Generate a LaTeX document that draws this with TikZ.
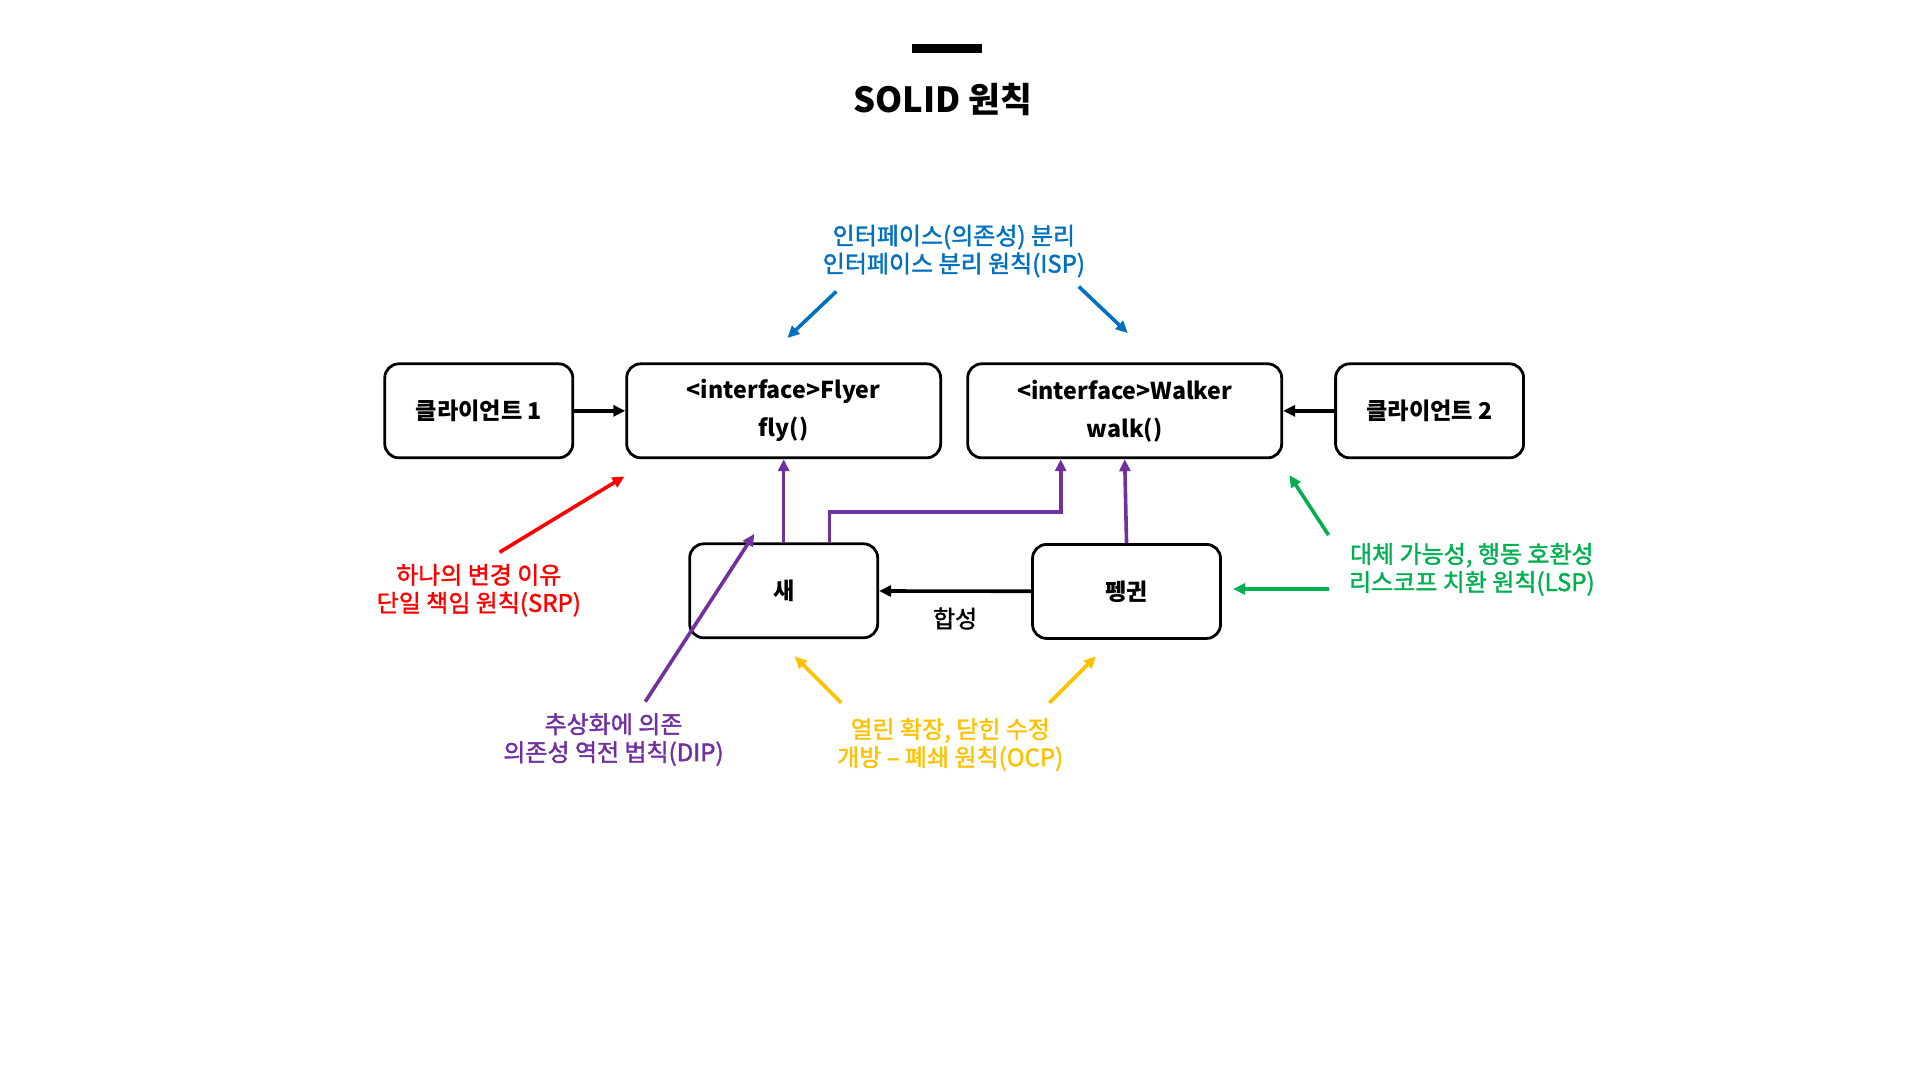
\documentclass[tikz,border=0pt]{standalone}
\usepackage{fontspec}
\setmainfont{Noto Sans CJK KR}
\newfontfamily\notefont{Noto Sans CJK KR}[BoldFont=*,BoldFeatures={FakeBold=1.6}]
\usepackage{tikz}
\usetikzlibrary{arrows.meta}
\definecolor{ispblue}{RGB}{0,112,192}
\definecolor{srpred}{RGB}{255,0,0}
\definecolor{lspgreen}{RGB}{0,176,80}
\definecolor{dippurple}{RGB}{112,48,160}
\definecolor{ocpyellow}{RGB}{255,192,0}
\tikzset{
  box/.style={draw,line width=1.4pt,rounded corners=7pt,minimum height=47pt,
    align=center,font=\bfseries\fontsize{11.6}{19}\selectfont},
  conn/.style={line width=1.8pt,-{Triangle[length=6pt,width=5.5pt]}},
  note/.style={align=center,font=\notefont\bfseries\fontsize{12}{14}\selectfont}
}

\begin{document}
\begin{tikzpicture}[x=0.6123pt,y=-0.6123pt]
            \useasboundingbox (0,0) rectangle (1568,882);
            % title
            \fill (745,36) rectangle (802,43);
            \node[font=\bfseries\fontsize{17.3}{21}\selectfont] (title) at (770,81) {SOLID 원칙};
            % classes
            \node[box,minimum width=94pt] (client1) at (391,335.5) {클라이언트 1};
            \node[box,minimum width=157pt] (flyer) at (640,335.5) {<interface>Flyer\\fly()};
            \node[box,minimum width=157pt] (walker) at (918.5,335.5) {<interface>Walker\\walk()};
            \node[box,minimum width=94pt] (client2) at (1167.5,335.5) {클라이언트 2};
            \node[box,minimum width=94pt] (bird) at (640,482.5) {새};
            \node[box,minimum width=94pt] (penguin) at (920,483) {펭귄};
            \draw[conn] (client1) -- (flyer);
            \draw[conn] (client2) -- (walker);
            \draw[conn] (penguin) -- (bird) node[midway,below=4pt,font=\notefont\bfseries\fontsize{12}{14}\selectfont] (compose) {합성};
            \draw[conn,dippurple] (bird.north) -- (flyer.south);
            \draw[conn,dippurple] (penguin.north) -- (walker.south);
            \draw[conn,dippurple] ([xshift=23pt]bird.north) -- ([xshift=23pt]bird.north |- 0,418)
                -- ([xshift=-32pt]walker.south |- 0,418) -- ([xshift=-32pt]walker.south);
            % principles
            \node[note,text=ispblue] (isp) at (779,205) {인터페이스(의존성) 분리\\인터페이스 분리 원칙(ISP)};
            \node[note,text=srpred] (srp) at (391,482) {하나의 변경 이유\\단일 책임 원칙(SRP)};
            \node[note,text=lspgreen] (lsp) at (1202,465) {대체 가능성, 행동 호환성\\리스코프 치환 원칙(LSP)};
            \node[note,text=dippurple] (dip) at (501,604) {추상화에 의존\\의존성 역전 법칙(DIP)};
            \node[note,text=ocpyellow] (ocp) at (776,608) {열린 확장, 닫힌 수정\\개방 – 폐쇄 원칙(OCP)};
            \coordinate (isp1s) at (683,238); \coordinate (isp1e) at (643,276);
            \coordinate (isp2s) at (881,234); \coordinate (isp2e) at (921,272);
            \coordinate (srps) at (408,451); \coordinate (srpe) at (510,389);
            \coordinate (lsp1s) at (1085,437); \coordinate (lsp1e) at (1053,388);
            \coordinate (lsp2s) at (1085,481); \coordinate (lsp2e) at (1007,481);
            \coordinate (dips) at (527,573); \coordinate (dipe) at (616,436);
            \coordinate (ocp1s) at (687,574); \coordinate (ocp1e) at (649,536);
            \coordinate (ocp2s) at (857,574); \coordinate (ocp2e) at (895,536);
            \draw[conn,ispblue] (isp1s) -- (isp1e);
            \draw[conn,ispblue] (isp2s) -- (isp2e);
            \draw[conn,srpred] (srps) -- (srpe);
            \draw[conn,lspgreen] (lsp1s) -- (lsp1e);
            \draw[conn,lspgreen] (lsp2s) -- (lsp2e);
            \draw[conn,dippurple] (dips) -- (dipe);
            \draw[conn,ocpyellow] (ocp1s) -- (ocp1e);
            \draw[conn,ocpyellow] (ocp2s) -- (ocp2e);
        \end{tikzpicture}
\end{document}
